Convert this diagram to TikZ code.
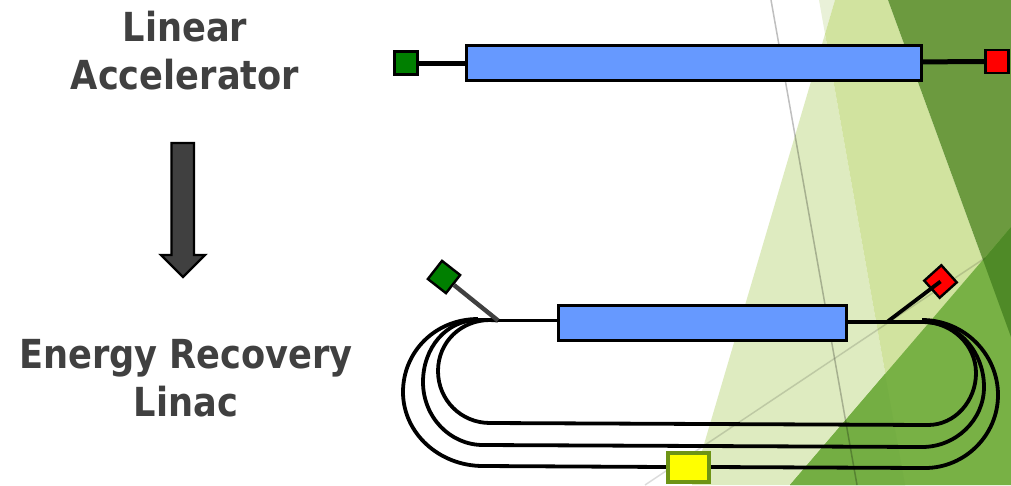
\documentclass[tikz,border=0pt]{standalone}
\usepackage{fontspec}
\setmainfont[FakeStretch=0.88]{DejaVu Sans}
\definecolor{txt}{HTML}{404040}
\definecolor{barblue}{HTML}{6699FF}
\definecolor{srcgreen}{HTML}{007F00}
\definecolor{dumpred}{HTML}{FF0000}
\definecolor{tapyellow}{HTML}{FFFF00}
\definecolor{bgpale}{HTML}{DEEBC0}
\definecolor{bgmed}{HTML}{D1E39F}
\definecolor{bgsliver}{HTML}{E9F1D8}
\definecolor{bgdark}{HTML}{6C9A3F}
\definecolor{bglow}{HTML}{78B145}
\definecolor{bglowb}{HTML}{74AE43}
\definecolor{bgover}{HTML}{4F8A27}
\definecolor{yelline}{HTML}{6E9415}
\tikzset{
  bar/.style={draw=black,line width=3pt,fill=barblue,inner sep=0pt,minimum height=35pt},
  squarebox/.style={draw=black,line width=2.4pt,inner sep=0pt,minimum width=23pt,minimum height=23pt},
  beam/.style={draw=black,line width=3.8pt},
  thick beam/.style={draw=black,line width=5pt},
  title/.style={text=txt,font=\fontsize{40}{48}\selectfont\bfseries,align=center,inner sep=0pt},
  bigarrow/.style={draw=black,line width=2.4pt,fill=txt,miter limit=10},
  guide/.style={draw=black,draw opacity=.25,line width=1.5pt}
}
\begin{document}
\begin{tikzpicture}[x=1pt,y=-1pt]
\useasboundingbox (0,0) rectangle (1011,485);
\clip (0,0) rectangle (1011,485);
% background
\fill[bgsliver] (819,0) -- (835,0) -- (825,34) -- cycle;
\fill[bgpale] (825,34) -- (692,485) -- (905,485) -- cycle;
\fill[bgmed] (835,0) -- (888,0) -- (1011,337) -- (1011,485) -- (905,485) -- (825,34) -- cycle;
\fill[bgdark] (888,0) -- (1011,0) -- (1011,337) -- cycle;
\fill[bglow] (1011,227) -- (1011,485) -- (790,485) -- cycle;
\fill[bglowb] (790,485) -- (905,485) -- (885,374) -- cycle;
\fill[bgover] (1011,227) -- (1011,337) -- (983,260) -- cycle;
\draw[guide] (771,0) -- (857,485);
\draw[draw=black,draw opacity=.14,line width=1.5pt] (645,485) -- (985,258);
% titles
\node[title] (linac) at (185,50.5) {Linear\\Accelerator};
\node[title] (erl) at (186,378.5) {Energy Recovery\\Linac};
% arrow
\draw[bigarrow] (171.5,143) -- (194,143) -- (194,255) -- (205,255) -- (183,277) -- (161,255) -- (171.5,255) -- cycle;
% top linac
\node[bar,minimum width=455pt] (topbar) at (694,63) {};
\node[squarebox,fill=srcgreen] (topsrc) at (406,63) {};
\node[squarebox,fill=dumpred] (topdump) at (997,61.5) {};
\draw[thick beam] (topsrc) -- (topbar);
\draw[thick beam] (topbar) -- (topdump);
% ERL
\coordinate (ltop) at (498,320.5);
\coordinate (rtop) at (887,322);
\node[squarebox,fill=srcgreen,rotate=-38] (ersrc) at (444,277) {};
\node[squarebox,fill=dumpred,rotate=42] (erdump) at (940.5,281.5) {};
\node[bar,minimum width=288pt] (erbar) at (702.5,323) {};
\draw[beam] (ltop) -- (erbar.west |- ltop);
\draw[beam] (erbar.east |- rtop) -- (925,322);
% loops
\coordinate (yw) at (667,467);
\coordinate (ye) at (710,467);
\draw[beam] (498,320.5) -- (490,320) .. controls (461,320) and (438,342) .. (438,371) .. controls (438,400) and (461,423) .. (490,423) -- (928,425)
  .. controls (955,425) and (976,401) .. (976,373) .. controls (976,345) and (952,322) .. (923,322);
\draw[beam] (490,320) -- (478,320) .. controls (446,320) and (423,348) .. (423,382) .. controls (423,417) and (450,445) .. (483,445) -- (922,447)
  .. controls (956,447) and (984,420) .. (984,387) .. controls (984,351) and (957,322) .. (925,322);
\draw[beam] (478,319) .. controls (435,319) and (403,352) .. (403,392) .. controls (403,433) and (439,466) .. (483,466) -- (yw);
\draw[beam] (ye) -- (925,468) .. controls (965,468) and (998,435) .. (998,395) .. controls (998,354) and (964,320) .. (922,320);
\node[draw=yelline,line width=3.4pt,fill=tapyellow,inner sep=0pt,minimum width=41pt,minimum height=29pt] (ybox) at (688.5,467.5) {};
\draw[draw=txt,line width=4.4pt] (ltop) -- (ersrc);
\draw[beam] (rtop) -- (erdump.center);
\end{tikzpicture}
\end{document}
